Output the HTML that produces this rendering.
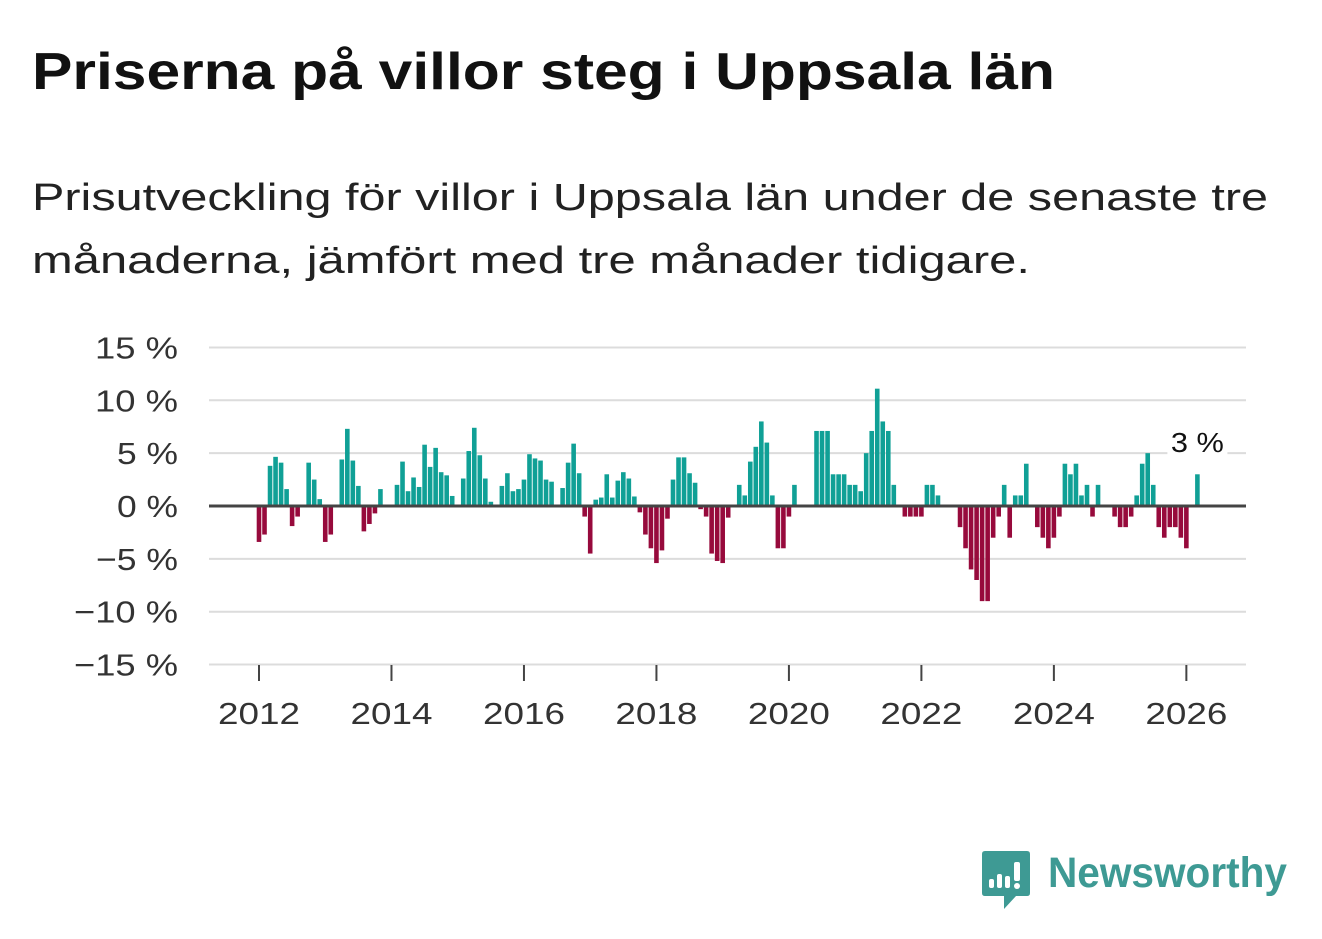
<!DOCTYPE html>
<html><head><meta charset="utf-8">
<style>
body{margin:0;width:1322px;height:939px;background:#fff;font-family:"Liberation Sans","DejaVu Sans",sans-serif;overflow:hidden;position:relative}
.fit{position:absolute;left:32px;margin:0;white-space:nowrap;transform-origin:0 0;display:inline-block}
#title{top:42px;font-size:52px;font-weight:bold;color:#111}
.sub{font-size:38px;color:#222}
svg{position:absolute;left:0;top:0}
</style></head><body>
<div id="title" class="fit" data-tw="1023">Priserna på villor steg i Uppsala län</div>
<div class="fit sub" style="top:177px" data-tw="1236">Prisutveckling för villor i Uppsala län under de senaste tre</div>
<div class="fit sub" style="top:240px" data-tw="998">månaderna, jämfört med tre månader tidigare.</div>
<svg id="chart" width="1322" height="939"></svg>
<div style="position:absolute;left:982px;top:851px;width:310px;height:60px">
<svg width="48" height="58" style="position:absolute;left:0;top:0">
<path d="M3 0 H45 Q48 0 48 3 V42 Q48 45 45 45 H34 L22 58 L22 45 H3 Q0 45 0 42 V3 Q0 0 3 0Z" fill="#3e9a94"/>
<rect x="7" y="28" width="5" height="9" rx="2" fill="#fff"/><rect x="15" y="23" width="5" height="14" rx="2" fill="#fff"/><rect x="23" y="25" width="5" height="12" rx="2" fill="#fff"/><rect x="32" y="11" width="6" height="19" rx="2" fill="#fff"/><circle cx="35" cy="35" r="3" fill="#fff"/>
</svg>
<span class="fit" data-tw="239" style="left:66px;top:-2px;font-size:43px;font-weight:bold;color:#3e9a94">Newsworthy</span>
</div>
<script>
const values=[-3.4,-2.7,3.8,4.65,4.1,1.6,-1.9,-1.0,0,4.1,2.5,0.65,
-3.4,-2.7,0,4.4,7.3,4.3,1.9,-2.4,-1.7,-0.7,1.6,0,
0,2.0,4.2,1.4,2.7,1.8,5.8,3.7,5.5,3.2,2.9,0.95,
0,2.6,5.2,7.4,4.8,2.6,0.4,0,1.9,3.1,1.4,1.6,
2.5,4.9,4.5,4.3,2.5,2.3,0,1.7,4.1,5.9,3.1,-1.0,
-4.5,0.6,0.8,3.0,0.8,2.4,3.2,2.6,0.9,-0.6,-2.7,-4.0,
-5.4,-4.2,-1.2,2.5,4.6,4.6,3.1,2.2,-0.3,-1.0,-4.5,-5.2,
-5.4,-1.1,0,2.0,1.0,4.2,5.6,8.0,6.0,1.0,-4.0,-4.0,
-1.0,2.0,0,0,0,7.1,7.1,7.1,3.0,3.0,3.0,2.0,
2.0,1.4,5.0,7.1,11.1,8.0,7.1,2.0,0,-1.0,-1.0,-1.0,
-1.0,2.0,2.0,1.0,0,0,0,-2.0,-4.0,-6.0,-7.0,-9.0,
-9.0,-3.0,-1.0,2.0,-3.0,1.0,1.0,4.0,0,-2.0,-3.0,-4.0,
-3.0,-1.0,4.0,3.0,4.0,1.0,2.0,-1.0,2.0,0,0,-1.0,
-2.0,-2.0,-1.0,1.0,4.0,5.0,2.0,-2.0,-3.0,-2.0,-2.0,-3.0,
-4.0,0,3.0];
const yTicks=[15,10,5,0,-5,-10,-15];
const xTickYears=[2012,2014,2016,2018,2020,2022,2024,2026];
const startYear=2012;
const lastLabel="3 %";

document.querySelectorAll('.fit').forEach(e=>{
 const w=e.getBoundingClientRect().width;
 e.style.transform='scaleX('+(+e.dataset.tw/w)+')';
});
const NS="http://www.w3.org/2000/svg";
const svg=document.getElementById('chart');
const x0=259, pxPerMonth=5.52;
const xs=m=>x0+m*pxPerMonth;
const ys=v=>506-v*10.57;
function el(t,a){const e=document.createElementNS(NS,t);for(const k in a)e.setAttribute(k,a[k]);svg.appendChild(e);return e;}
yTicks.forEach(t=>{
 if(t!==0){const g=el('line',{x1:209,x2:1246,y1:ys(t),y2:ys(t),stroke:'#dcdcdc','stroke-width':2});
 
 }
 const txt=(t<0?'\u2212'+(-t):t)+' %';
 const w=(t<0?21:0)+(Math.abs(t)>=10?83:61);
 const l=el('text',{x:178,y:ys(t)+11,'text-anchor':'end','font-size':31,fill:'#333',textLength:w,lengthAdjust:'spacingAndGlyphs','font-family':'Liberation Sans, DejaVu Sans, sans-serif'});
 l.textContent=txt;
 
 
});
xTickYears.forEach(y=>{
 const x=xs((y-startYear)*12);
 const tk=el('line',{x1:x,x2:x,y1:665,y2:681,stroke:'#444','stroke-width':2});
 
 
 const l=el('text',{x:x,y:724,'text-anchor':'middle','font-size':31,fill:'#333',textLength:82,lengthAdjust:'spacingAndGlyphs','font-family':'Liberation Sans, DejaVu Sans, sans-serif'});
 l.textContent=y;
 
 
});
values.forEach((v,i)=>{
 if(v===0)return;
 const x=xs(i);
 const r=el('rect',{x:x-2.3,width:4.6,y:Math.min(ys(v),ys(0)),height:Math.abs(ys(v)-ys(0)),fill:v>0?'#10a096':'#970a3c'});
 
 
});
const z=el('line',{x1:209,x2:1246,y1:506,y2:506,stroke:'#444','stroke-width':3});


const li=values.length-1;
const bg=el('rect',{x:xs(li)-30,y:426,width:60,height:32,fill:'#fff'});


const lab=el('text',{x:xs(li),y:452,'text-anchor':'middle','font-size':28,fill:'#111',textLength:53,lengthAdjust:'spacingAndGlyphs','font-family':'Liberation Sans, DejaVu Sans, sans-serif'});
lab.textContent=lastLabel;


</script>
</body></html>
